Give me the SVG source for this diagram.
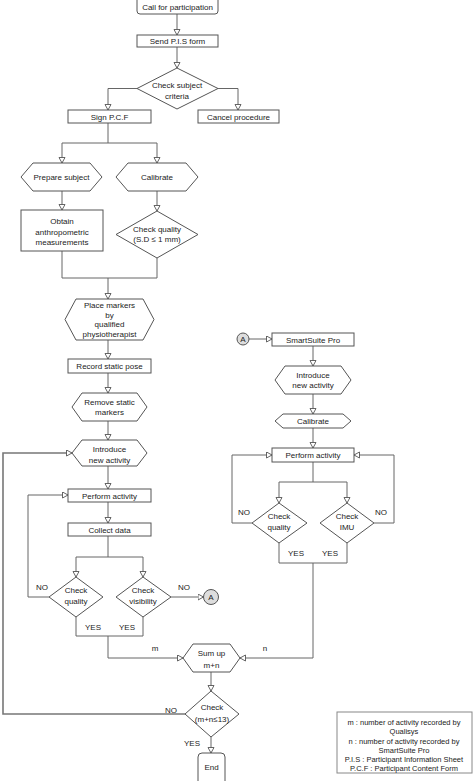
<svg xmlns="http://www.w3.org/2000/svg" width="474" height="781" viewBox="0 0 474 781">
<defs>
<marker id="ah" markerUnits="userSpaceOnUse" markerWidth="8" markerHeight="8" refX="6" refY="3.5" orient="auto">
<path d="M0.5,0.5 L6,3.5 L0.5,6.5 Z" fill="#fff" stroke="#555" stroke-width="0.9"/>
</marker>
<style>
.n{fill:#fff;stroke:#555;stroke-width:1}
.c{fill:none;stroke:#666;stroke-width:1}
.a{marker-end:url(#ah)}
text{font-family:"Liberation Sans",Arial,sans-serif;font-size:8px;fill:#222;text-anchor:middle}
.lg{font-size:7.5px}
</style>
</defs>
<rect width="474" height="781" fill="#fff"/>
<g id="connectors">
<polyline class="c a" points="177,14 177,35"/>
<polyline class="c a" points="177,47 177,68"/>
<polyline class="c a" points="137,88.5 108,88.5 108,110"/>
<polyline class="c a" points="218,88.5 238,88.5 238,110"/>
<polyline class="c" points="108,123 108,143"/>
<polyline class="c a" points="108,143 62,143 62,163"/>
<polyline class="c a" points="108,143 157,143 157,163"/>
<polyline class="c a" points="62,191 62,210"/>
<polyline class="c a" points="157,191 157,211"/>
<polyline class="c" points="62,251 62,278 157,278 157,258"/>
<polyline class="c a" points="108,278 108,299"/>
<polyline class="c a" points="108,340 108,359"/>
<polyline class="c a" points="108,373 108,393"/>
<polyline class="c a" points="108,421 108,440"/>
<polyline class="c a" points="185,714 3,714 3,453 72,453" style="stroke-width:1.6;stroke:#777"/>
<polyline class="c a" points="108,466 108,489"/>
<polyline class="c a" points="108,502 108,523"/>
<polyline class="c" points="108,536 108,557"/>
<polyline class="c a" points="108,557 76,557 76,577"/>
<polyline class="c a" points="108,557 143,557 143,577"/>
<polyline class="c a" points="49,597 28,597 28,495 68,495"/>
<polyline class="c a" points="171,597 203.5,597"/>
<polyline class="c" points="76,617 76,636 143,636 143,617"/>
<polyline class="c a" points="108,636 108,658 183,658"/>
<polyline class="c" points="279,543 279,563 347,563 347,543"/>
<polyline class="c a" points="313,563 313,658 240,658"/>
<polyline class="c a" points="211,672 211,691"/>
<polyline class="c a" points="211,737 211,753"/>
<polyline class="c a" points="249,339 272,339"/>
<polyline class="c a" points="313,346 313,366"/>
<polyline class="c a" points="313,394 313,414"/>
<polyline class="c a" points="313,428 313,448"/>
<polyline class="c" points="313,462 313,482"/>
<polyline class="c a" points="313,482 279,482 279,503"/>
<polyline class="c a" points="313,482 347,482 347,503"/>
<polyline class="c a" points="252,523 232,523 232,455 272,455"/>
<polyline class="c a" points="374,523 394,523 394,455 354,455"/>
</g>
<g id="labels">
<text x="42" y="590">NO</text>
<text x="184" y="590">NO</text>
<text x="93" y="630">YES</text>
<text x="127" y="630">YES</text>
<text x="155" y="651">m</text>
<text x="265" y="651">n</text>
<text x="171" y="713">NO</text>
<text x="192" y="746">YES</text>
<text x="244" y="515">NO</text>
<text x="381" y="515">NO</text>
<text x="296" y="556">YES</text>
<text x="330" y="556">YES</text>
</g>
<g id="call"><rect class="n" x="137" y="-4" width="81" height="18" rx="3"/><text x="177.5" y="10">Call for participation</text></g>
<g id="pis"><rect class="n" x="137" y="35" width="81" height="12"/><text x="177.5" y="44">Send P.I.S form</text></g>
<g id="criteria"><polygon class="n" points="177,68 218,88.5 177,109 137,88.5"/><text x="177" y="88">Check subject</text><text x="177" y="99">criteria</text></g>
<g id="pcf"><rect class="n" x="68" y="110" width="83" height="13"/><text x="109.5" y="119.5">Sign P.C.F</text></g>
<g id="cancel"><rect class="n" x="198" y="110" width="81" height="13"/><text x="238.5" y="119.5">Cancel procedure</text></g>
<g id="prepare"><polygon class="n" points="21,177 33,163 90,163 102,177 90,191 33,191"/><text x="61.5" y="180">Prepare subject</text></g>
<g id="calibrate"><polygon class="n" points="116,177 128,163 186,163 198,177 186,191 128,191"/><text x="157" y="180">Calibrate</text></g>
<g id="obtain"><rect class="n" x="21" y="210" width="82" height="41"/><text x="62" y="224">Obtain</text><text x="62" y="234.5">anthropometric</text><text x="62" y="244.5">measurements</text></g>
<g id="quality1"><polygon class="n" points="157,211 198,234.5 157,258 116,234.5"/><text x="157" y="232">Check quality</text><text x="157" y="241.5">(S.D ≤ 1 mm)</text></g>
<g id="place"><polygon class="n" points="65,319.5 76,299 143,299 154,319.5 143,340 76,340"/><text x="109.5" y="308">Place markers</text><text x="109.5" y="317.5">by</text><text x="109.5" y="327">qualified</text><text x="109.5" y="336.5">physiotherapist</text></g>
<g id="record"><rect class="n" x="68" y="359" width="83" height="14"/><text x="109.5" y="369">Record static pose</text></g>
<g id="remove"><polygon class="n" points="72,407 82,393 137,393 147,407 137,421 82,421"/><text x="109.5" y="405">Remove static</text><text x="109.5" y="415">markers</text></g>
<g id="introduce1"><polygon class="n" points="72,453 82,440 137,440 147,453 137,466 82,466"/><text x="109.5" y="452">Introduce</text><text x="109.5" y="463">new activity</text></g>
<g id="perform1"><rect class="n" x="68" y="489" width="83" height="13"/><text x="109.5" y="498.5">Perform activity</text></g>
<g id="collect"><rect class="n" x="68" y="523" width="83" height="13"/><text x="109.5" y="532.5">Collect data</text></g>
<g id="quality2"><polygon class="n" points="76,577 103,597 76,617 49,597"/><text x="76" y="593">Check</text><text x="76" y="604">quality</text></g>
<g id="visibility"><polygon class="n" points="143,577 171,597 143,617 116,597"/><text x="143" y="593">Check</text><text x="143" y="604">visibility</text></g>
<g id="connA1"><circle cx="211" cy="597" r="7.5" fill="#ddd" stroke="#555"/><text x="211" y="600">A</text></g>
<g id="sum"><polygon class="n" points="183,658 193,644 230,644 240,658 230,672 193,672"/><text x="211.5" y="656">Sum up</text><text x="211.5" y="668">m+n</text></g>
<g id="checkmn"><polygon class="n" points="211,691 239,714 211,737 185,714"/><text x="212" y="710">Check</text><text x="212" y="722">(m+n≤13)</text></g>
<g id="end"><rect class="n" x="198" y="753" width="27" height="34" rx="4"/><text x="211.5" y="770">End</text></g>
<g id="connA2"><circle cx="243" cy="339" r="6" fill="#ddd" stroke="#555"/><text x="243" y="342">A</text></g>
<g id="smartsuite"><rect class="n" x="272" y="333" width="82" height="13"/><text x="313" y="342.5">SmartSuite Pro</text></g>
<g id="introduce2"><polygon class="n" points="275,380 285,366 341,366 351,380 341,394 285,394"/><text x="313" y="378">Introduce</text><text x="313" y="388">new activity</text></g>
<g id="calibrate2"><polygon class="n" points="275,421 283,414 343,414 351,421 343,428 283,428"/><text x="313" y="424">Calibrate</text></g>
<g id="perform2"><rect class="n" x="272" y="448" width="82" height="14"/><text x="313" y="458">Perform activity</text></g>
<g id="quality3"><polygon class="n" points="279,503 307,523 279,543 252,523"/><text x="279" y="519">Check</text><text x="279" y="530">quality</text></g>
<g id="imu"><polygon class="n" points="347,503 374,523 347,543 320,523"/><text x="347" y="519">Check</text><text x="347" y="530">IMU</text></g>
<g id="legend"><rect x="337" y="712" width="135" height="61" fill="#fff" stroke="#888"/>
<text class="lg" x="404" y="724.5">m : number of activity recorded by</text>
<text class="lg" x="404" y="734">Qualisys</text>
<text class="lg" x="404" y="743.5">n : number of activity recorded by</text>
<text class="lg" x="404" y="752.5">SmartSuite Pro</text>
<text class="lg" x="404" y="762">P.I.S : Participant Information Sheet</text>
<text class="lg" x="404" y="771">P.C.F : Participant Content Form</text>
</g>
</svg>
